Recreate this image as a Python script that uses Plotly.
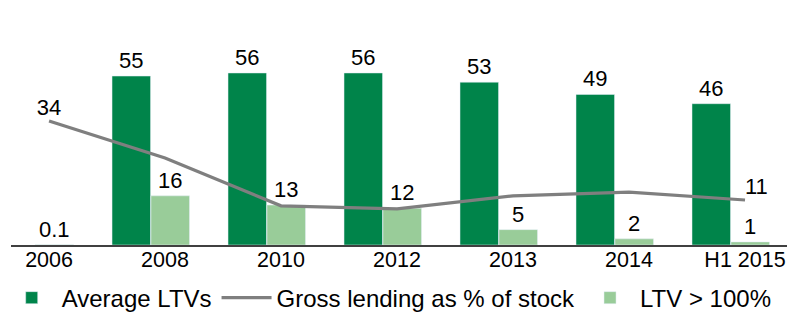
import plotly.graph_objects as go

categories = ["2006", "2008", "2010", "2012", "2013", "2014", "H1 2015"]
avg_ltv = [None, 55, 56, 56, 53, 49, 46]
ltv_over_100 = [0.1, 16, 13, 12, 5, 2, 1]
gross_lending = [34, 23.2, 9.3, 8.4, 12.2, 13.3, 11]
gross_labels = ["34", "", "", "", "", "", "11"]

DARK = "#00844A"
LIGHT = "#99CC99"
GREY = "#7F7F7F"
FONT = "Liberation Sans, Arial, sans-serif"

fig = go.Figure()
fig.add_trace(go.Bar(
    x=categories, y=avg_ltv, name="Average LTVs",
    marker=dict(color=DARK), width=0.332, offset=-0.457,
    text=[("" if v is None else str(v)) for v in avg_ltv],
    textposition="outside", cliponaxis=False,
    textfont=dict(size=22, color="black", family=FONT),
))
fig.add_trace(go.Scatter(
    x=categories, y=gross_lending, name="Gross lending as % of stock",
    mode="lines+text", line=dict(color=GREY, width=3.2),
    text=gross_labels,
    textposition=["top center", "top center", "top center", "top center",
                  "top center", "top center", "top right"],
    textfont=dict(size=22, color="black", family=FONT),
    yaxis="y2", cliponaxis=False,
))
fig.add_trace(go.Bar(
    x=categories, y=ltv_over_100, name="LTV > 100%",
    marker=dict(color=LIGHT), width=0.332, offset=-0.121,
    text=[str(v) for v in ltv_over_100],
    textposition="outside", cliponaxis=False,
    textfont=dict(size=22, color="black", family=FONT),
))

fig.update_layout(
    width=788, height=314,
    margin=dict(l=11, r=1, t=10, b=69, autoexpand=False),
    paper_bgcolor="white", plot_bgcolor="white",
    font=dict(family=FONT, color="black"),
    showlegend=True,
    legend=dict(orientation="h", x=-0.012, xanchor="left", y=-0.13, yanchor="top",
                font=dict(size=24, color="black", family=FONT),
                itemwidth=50, tracegroupgap=0, traceorder="normal"),
    xaxis=dict(type="category", range=[-0.328, 6.362], showline=True,
               linecolor="#404040", linewidth=1.5, ticks="", showgrid=False,
               automargin=False, ticklabelstandoff=-6,
               tickfont=dict(size=21.5, color="black", family=FONT)),
    yaxis=dict(range=[0, 76.5], visible=False, showgrid=False, automargin=False),
    yaxis2=dict(range=[-2.1, 66.3], overlaying="y", visible=False, showgrid=False,
                automargin=False),
)

fig.write_html("out.html", config={"displayModeBar": False},
               post_script="document.body.style.margin='0';")
